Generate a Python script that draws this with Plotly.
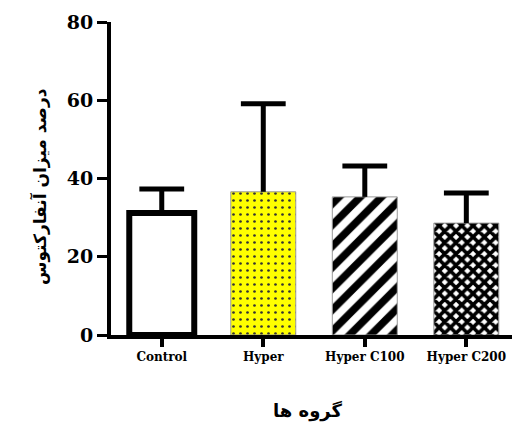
import plotly.graph_objects as go

groups = ["Control", "Hyper", "Hyper C100", "Hyper C200"]
means = [31.2, 36.6, 35.3, 28.6]
errors = [6.1, 22.5, 7.9, 7.7]
y_ticks = [0, 20, 40, 60, 80]

fills = ["white", "#ffff00", "white", "white"]
shapes = ["", ".", "/", "x"]
fgcolors = ["black", "#333333", "black", "black"]
line_colors = ["black", "#999999", "#999999", "#999999"]
line_widths = [6, 1, 1, 1]
pat_sizes = [8, 7, 15, 8]
solidities = [0.2, 0.12, 0.5, 0.7]

fig = go.Figure()
for i, g in enumerate(groups):
    fig.add_trace(go.Bar(
        x=[g], y=[means[i]],
        width=0.64,
        marker=dict(
            color=fills[i],
            line=dict(color=line_colors[i], width=line_widths[i]),
            pattern=dict(shape=shapes[i], fgcolor=fgcolors[i], bgcolor=fills[i],
                         fgopacity=1, size=pat_sizes[i], solidity=solidities[i],
                         fillmode="overlay"),
        ),
        error_y=dict(type="data", array=[errors[i]], arrayminus=[0], symmetric=False,
                     color="black", thickness=5, width=0),
        showlegend=False,
    ))

tops = [m + e for m, e in zip(means, errors)]
fig.add_trace(go.Scatter(
    x=groups, y=tops, mode="markers", showlegend=False, hoverinfo="skip",
    marker=dict(symbol="line-ew", size=32, line=dict(color="black", width=5)),
    cliponaxis=False,
))

fig.update_layout(
    width=512, height=428,
    margin=dict(l=111, r=0, t=22, b=93),
    paper_bgcolor="white", plot_bgcolor="white",
    xaxis=dict(
        range=[-0.5, 3.45], showline=True, linecolor="black", linewidth=4,
        ticks="outside", ticklen=8, tickwidth=4, tickcolor="black",
        tickfont=dict(family="DejaVu Serif", size=12, color="black", weight="bold"),
        showgrid=False, zeroline=False,
    ),
    yaxis=dict(
        range=[0, 80], tickvals=y_ticks, showline=True, linecolor="black", linewidth=4,
        ticks="outside", ticklen=10, tickwidth=3, tickcolor="black",
        tickfont=dict(family="DejaVu Serif", size=19, color="black", weight="bold"),
        showgrid=False, zeroline=False,
    ),
    annotations=[
        dict(text="درصد میزان آنفارکتوس", xref="paper", yref="paper",
             x=(40 - 111) / 401, y=(335 - 187) / 313, textangle=-90, showarrow=False,
             font=dict(family="DejaVu Sans", size=17, color="black", weight="bold"),
             xanchor="center", yanchor="middle"),
        dict(text="گروه ها", xref="paper", yref="paper",
             x=(308 - 111) / 401, y=(335 - 411) / 313, showarrow=False,
             font=dict(family="DejaVu Sans", size=18, color="black", weight="bold"),
             xanchor="center", yanchor="middle"),
    ],
)

fig.write_html("out.html")
